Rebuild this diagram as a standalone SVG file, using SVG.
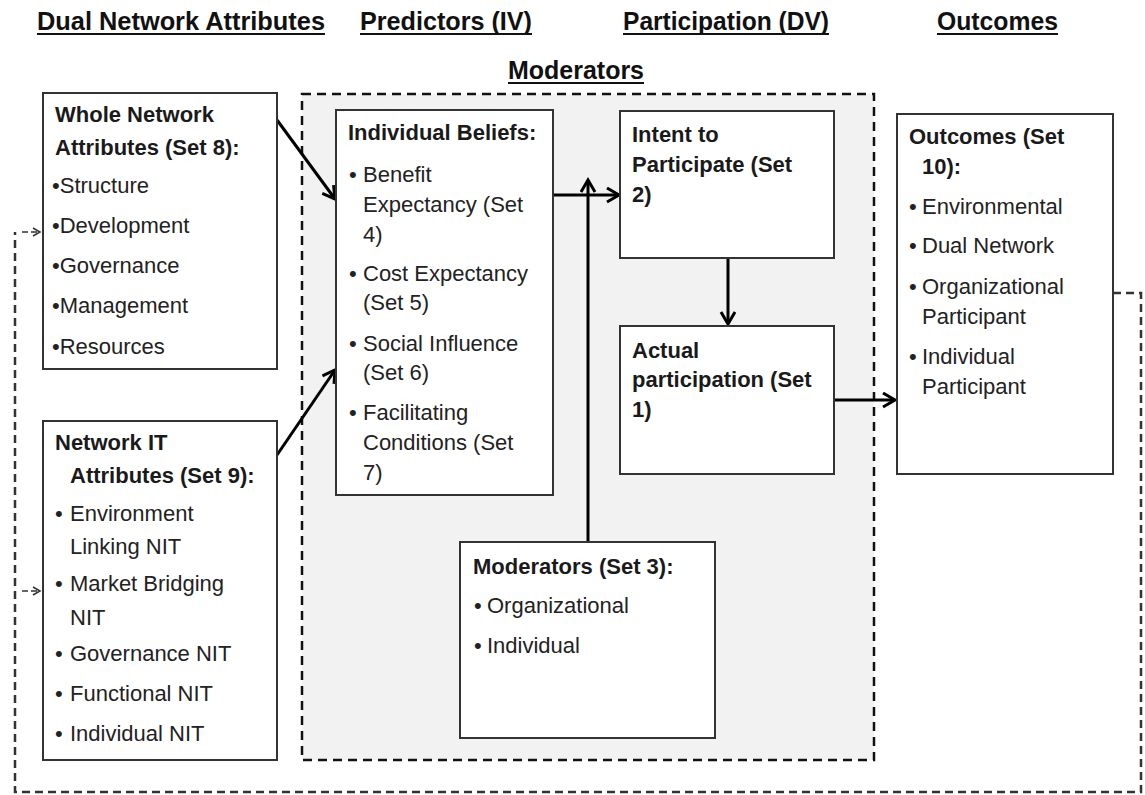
<svg xmlns="http://www.w3.org/2000/svg" width="1145" height="795" viewBox="0 0 1145 795">
<defs>
<style>
.hdr{font-family:"Liberation Sans",Arial,sans-serif;font-weight:bold;font-size:25px;fill:#111;}
.ul{stroke:#111;stroke-width:2;}
.box{fill:#fff;stroke:#333;stroke-width:2;}
.t{font-family:"Liberation Sans",Arial,sans-serif;font-weight:bold;font-size:22px;fill:#1a1a1a;}
.i{font-family:"Liberation Sans",Arial,sans-serif;font-size:22px;fill:#222;}
.arr{stroke:#000;stroke-width:3;fill:none;marker-end:url(#ah);}
.fb{stroke:#333;stroke-width:2.5;fill:none;stroke-dasharray:8 5;}
.fba{stroke:#333;stroke-width:1.5;fill:none;stroke-dasharray:6 3;marker-end:url(#sh);}
</style>
<marker id="ah" markerUnits="userSpaceOnUse" markerWidth="20" markerHeight="20" refX="14" refY="8" orient="auto">
<path d="M2,1 L14,8 L2,15" fill="none" stroke="#000" stroke-width="3"/>
</marker>
<marker id="sh" markerUnits="userSpaceOnUse" markerWidth="12" markerHeight="12" refX="8" refY="5" orient="auto">
<path d="M1,1 L8,5 L1,9" fill="none" stroke="#333" stroke-width="1.5"/>
</marker>
</defs>
<rect width="1145" height="795" fill="#fff"/>

<g id="headers">
<text class="hdr" x="37" y="30" textLength="288" lengthAdjust="spacingAndGlyphs">Dual Network Attributes</text>
<line class="ul" x1="37" y1="34" x2="325" y2="34"/>
<text class="hdr" x="360" y="30" textLength="172" lengthAdjust="spacingAndGlyphs">Predictors (IV)</text>
<line class="ul" x1="360" y1="34" x2="532" y2="34"/>
<text class="hdr" x="623" y="30" textLength="206" lengthAdjust="spacingAndGlyphs">Participation (DV)</text>
<line class="ul" x1="623" y1="34" x2="829" y2="34"/>
<text class="hdr" x="937" y="30" textLength="121" lengthAdjust="spacingAndGlyphs">Outcomes</text>
<line class="ul" x1="937" y1="34" x2="1058" y2="34"/>
<text class="hdr" x="508" y="79" textLength="136" lengthAdjust="spacingAndGlyphs">Moderators</text>
<line class="ul" x1="508" y1="83" x2="644" y2="83"/>
</g>

<g id="moderator-region">
<rect x="302" y="94" width="572" height="666" fill="#f2f2f2" stroke="#111" stroke-width="2.5" stroke-dasharray="9 6"/>
</g>

<g id="connectors">
<path class="fb" d="M1113,293 H1141 V792 H15 V232"/>
<path class="fba" d="M22,232 H40"/>
<path class="fba" d="M22,591 H40"/>
<path class="arr" d="M277,120 L335,199"/>
<path class="arr" d="M277,455 L335,370"/>
<path class="arr" d="M553,195 L619,195"/>
<path class="arr" d="M588,542 L588,180"/>
<path class="arr" d="M728,258 L728,324"/>
<path class="arr" d="M834,400 L895,400"/>
</g>

<g id="whole-network">
<rect class="box" x="43" y="93" width="234" height="276"/>
<text class="t" x="55" y="122">Whole Network</text>
<text class="t" x="55" y="155">Attributes (Set 8):</text>
<text class="i" x="52" y="193">•Structure</text>
<text class="i" x="52" y="233">•Development</text>
<text class="i" x="52" y="273">•Governance</text>
<text class="i" x="52" y="313">•Management</text>
<text class="i" x="52" y="354">•Resources</text>
</g>

<g id="network-it">
<rect class="box" x="43" y="421" width="234" height="339"/>
<text class="t" x="55" y="450">Network IT</text>
<text class="t" x="70" y="483">Attributes (Set 9):</text>
<text class="i" x="55" y="521">•</text><text class="i" x="70" y="521">Environment</text>
<text class="i" x="70" y="554">Linking NIT</text>
<text class="i" x="55" y="591">•</text><text class="i" x="70" y="591">Market Bridging</text>
<text class="i" x="70" y="625">NIT</text>
<text class="i" x="55" y="661">•</text><text class="i" x="70" y="661">Governance NIT</text>
<text class="i" x="55" y="701">•</text><text class="i" x="70" y="701">Functional NIT</text>
<text class="i" x="55" y="741">•</text><text class="i" x="70" y="741">Individual NIT</text>
</g>

<g id="individual-beliefs">
<rect class="box" x="336" y="110" width="217" height="385"/>
<text class="t" x="348" y="140">Individual Beliefs:</text>
<text class="i" x="349" y="182">•</text><text class="i" x="363" y="182">Benefit</text>
<text class="i" x="363" y="212">Expectancy (Set</text>
<text class="i" x="363" y="242">4)</text>
<text class="i" x="349" y="281">•</text><text class="i" x="363" y="281">Cost Expectancy</text>
<text class="i" x="363" y="310">(Set 5)</text>
<text class="i" x="349" y="351">•</text><text class="i" x="363" y="351">Social Influence</text>
<text class="i" x="363" y="380">(Set 6)</text>
<text class="i" x="349" y="420">•</text><text class="i" x="363" y="420">Facilitating</text>
<text class="i" x="363" y="450">Conditions (Set</text>
<text class="i" x="363" y="480">7)</text>
</g>

<g id="intent">
<rect class="box" x="620" y="111" width="214" height="147"/>
<text class="t" x="632" y="142">Intent to</text>
<text class="t" x="632" y="172">Participate (Set</text>
<text class="t" x="632" y="202">2)</text>
</g>

<g id="actual">
<rect class="box" x="620" y="326" width="214" height="148"/>
<text class="t" x="632" y="358">Actual</text>
<text class="t" x="632" y="387">participation (Set</text>
<text class="t" x="632" y="417">1)</text>
</g>

<g id="moderators-set3">
<rect class="box" x="460" y="542" width="255" height="196"/>
<text class="t" x="473" y="574">Moderators (Set 3):</text>
<text class="i" x="474" y="613">•</text><text class="i" x="487" y="613">Organizational</text>
<text class="i" x="474" y="653">•</text><text class="i" x="487" y="653">Individual</text>
</g>

<g id="outcomes">
<rect class="box" x="897" y="114" width="216" height="360"/>
<text class="t" x="909" y="144">Outcomes (Set</text>
<text class="t" x="922" y="174">10):</text>
<text class="i" x="909" y="214">•</text><text class="i" x="922" y="214">Environmental</text>
<text class="i" x="909" y="253">•</text><text class="i" x="922" y="253">Dual Network</text>
<text class="i" x="909" y="294">•</text><text class="i" x="922" y="294">Organizational</text>
<text class="i" x="922" y="324">Participant</text>
<text class="i" x="909" y="364">•</text><text class="i" x="922" y="364">Individual</text>
<text class="i" x="922" y="394">Participant</text>
</g>
</svg>
